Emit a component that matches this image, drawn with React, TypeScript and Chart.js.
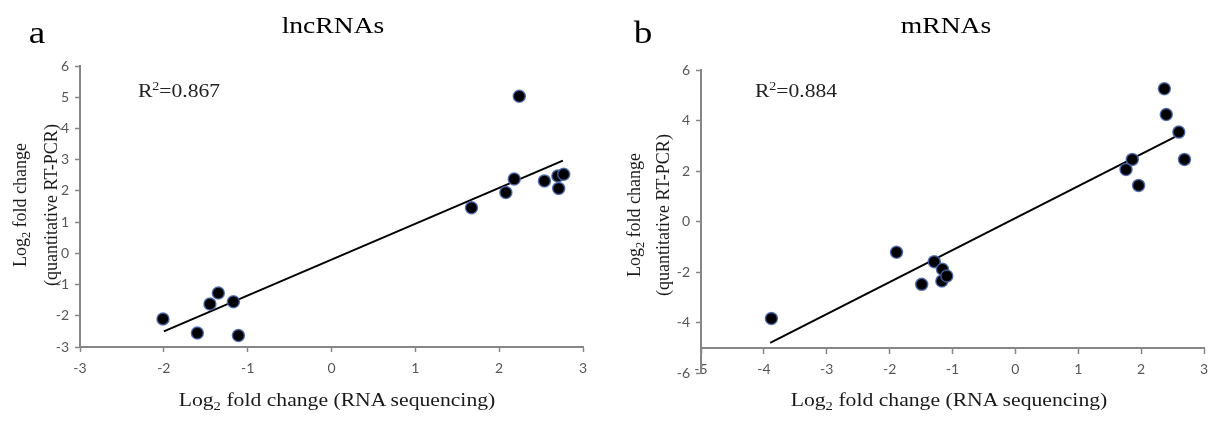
import React, { useEffect, useRef } from "react";
import { Chart, registerables } from "chart.js";

Chart.register(...registerables);

// ---- data ----
const lncX = [-2.01, -1.6, -1.45, -1.35, -1.17, -1.11, 1.67, 2.08, 2.18, 2.24, 2.54, 2.7, 2.77, 2.71];
const lncY = [-2.1, -2.55, -1.62, -1.27, -1.55, -2.63, 1.46, 1.95, 2.38, 5.03, 2.32, 2.48, 2.53, 2.08];
const lncTrendX = [-2.0, 2.76];
const lncTrendY = [-2.5, 2.97];

const mX = [-3.88, -1.89, -1.29, -1.49, -1.16, -1.17, -1.09, 1.76, 1.86, 1.96, 2.37, 2.4, 2.6, 2.69];
const mY = [-3.84, -1.22, -1.59, -2.49, -1.89, -2.36, -2.16, 2.06, 2.46, 1.43, 5.26, 4.24, 3.54, 2.46];
const mTrendX = [-3.9, 2.54];
const mTrendY = [-4.81, 3.35];

const lncXRange = [-3, 3];
const lncYRange = [-3, 6];
const mXRange = [-5, 3];
const mYRange = [-6, 6];
const mXAxisCross = -5;

const panelTitles = ["lncRNAs", "mRNAs"];
const panelLetters = ["a", "b"];
const r2Labels = ["0.867", "0.884"];
const xTitle = ["Log", "2", " fold change (RNA sequencing)"];
const yTitle1 = ["Log", "2", " fold change"];
const yTitle2 = "(quantitative RT-PCR)";

const AXIS_GRAY = "#868686";
const TICK_TEXT = "#575757";
const SERIF = "'Liberation Serif', 'Times New Roman', serif";
const TICK_FONT = { family: "Lato, 'Open Sans', sans-serif", size: 14 };

type PanelProps = {
  left: number;
  width: number;
  xs: number[];
  ys: number[];
  tx: number[];
  ty: number[];
  xr: number[];
  yr: number[];
  yStep: number;
  yAxisWidth: number;
  padTop: number;
  padRight: number;
  padBottom: number;
  xHeight: number;
  xCross?: number;
};

function Panel(p: PanelProps) {
  const ref = useRef<HTMLCanvasElement | null>(null);
  useEffect(() => {
    if (!ref.current) return;
    const pts = p.xs.map((x, i) => ({ x, y: p.ys[i] }));
    const trend = p.tx.map((x, i) => ({ x, y: p.ty[i] }));
    const chart = new Chart(ref.current, {
      type: "scatter",
      data: {
        datasets: [
          {
            data: pts,
            pointRadius: 6,
            pointBackgroundColor: "#000",
            pointBorderColor: "rgba(70,100,170,0.85)",
            pointBorderWidth: 1.5,
            showLine: false,
          },
          {
            data: trend,
            showLine: true,
            pointRadius: 0,
            borderColor: "#000",
            borderWidth: 2,
            fill: false,
          },
        ],
      },
      options: {
        responsive: false,
        animation: false,
        events: [],
        layout: {
          padding: { left: 0, top: p.padTop, right: p.padRight, bottom: p.padBottom },
        },
        plugins: {
          legend: { display: false },
          tooltip: { enabled: false },
          title: { display: false },
        },
        scales: {
          x: {
            type: "linear",
            min: p.xr[0],
            max: p.xr[1],
            position: p.xCross !== undefined ? { y: p.xCross } : "bottom",
            afterFit: (s: any) => {
              s.height = p.xHeight;
            },
            ticks: {
              stepSize: 1,
              color: TICK_TEXT,
              padding: 8,
              font: TICK_FONT,
            },
            grid: {
              drawOnChartArea: false,
              drawTicks: true,
              tickLength: 5,
              tickColor: AXIS_GRAY,
              tickWidth: 1.5,
            },
            border: { display: true, color: AXIS_GRAY, width: 2 },
          },
          y: {
            type: "linear",
            min: p.yr[0],
            max: p.yr[1],
            position: "left",
            afterFit: (s: any) => {
              s.width = p.yAxisWidth;
            },
            ticks: {
              stepSize: p.yStep,
              color: TICK_TEXT,
              padding: 6,
              font: TICK_FONT,
            },
            grid: {
              drawOnChartArea: false,
              drawTicks: true,
              tickLength: 5,
              tickColor: AXIS_GRAY,
              tickWidth: 1.5,
            },
            border: { display: true, color: AXIS_GRAY, width: 2 },
          },
        },
      },
    } as any);
    return () => chart.destroy();
  }, []);
  return (
    <canvas
      ref={ref}
      width={p.width}
      height={421}
      style={{ position: "absolute", left: p.left, top: 0, width: p.width, height: 421 }}
    />
  );
}

function Txt(props: {
  x: number;
  y: number;
  size: number;
  sx?: number;
  rot?: boolean;
  color?: string;
  lh?: number;
  children: React.ReactNode;
}) {
  const sx = props.sx ?? 1.2;
  const tf = props.rot
    ? `scaleX(${sx}) rotate(-90deg) translate(-50%,-50%)`
    : `scaleX(${sx}) translate(-50%,-50%)`;
  return (
    <div
      style={{
        position: "absolute",
        left: props.x,
        top: props.y,
        transformOrigin: "0 0",
        transform: tf,
        fontFamily: SERIF,
        fontSize: props.size,
        lineHeight: `${props.lh ?? props.size}px`,
        color: props.color ?? "#000",
        whiteSpace: "nowrap",
        textAlign: "center",
      }}
    >
      {props.children}
    </div>
  );
}

function Sub({ t }: { t: string }) {
  return (
    <span style={{ fontSize: "0.68em", position: "relative", top: "0.32em" }}>{t}</span>
  );
}

function XTitle({ x }: { x: number }) {
  return (
    <Txt x={x} y={400} size={19} sx={1.14} color="#1a1a1a">
      {xTitle[0]}
      <Sub t={xTitle[1]} />
      {xTitle[2]}
    </Txt>
  );
}

function YTitle({ x, y, lh }: { x: number; y: number; lh: number }) {
  return (
    <Txt x={x} y={y} size={18} sx={1.05} rot lh={lh} color="#1a1a1a">
      <div>
        {yTitle1[0]}
        <Sub t={yTitle1[1]} />
        {yTitle1[2]}
      </div>
      <div>{yTitle2}</div>
    </Txt>
  );
}

export default function App() {
  return (
    <div
      style={{
        position: "fixed",
        left: 0,
        top: 0,
        width: 1221,
        height: 421,
        background: "#fff",
        overflow: "hidden",
      }}
    >
      <Panel
        left={0}
        width={610}
        xs={lncX}
        ys={lncY}
        tx={lncTrendX}
        ty={lncTrendY}
        xr={lncXRange}
        yr={lncYRange}
        yStep={1}
        yAxisWidth={80}
        padTop={66}
        padRight={27}
        padBottom={0}
        xHeight={74}
      />
      <Panel
        left={610}
        width={611}
        xs={mX}
        ys={mY}
        tx={mTrendX}
        ty={mTrendY}
        xr={mXRange}
        yr={mYRange}
        yStep={2}
        yAxisWidth={91}
        padTop={70}
        padRight={17}
        padBottom={48}
        xHeight={48}
        xCross={mXAxisCross}
      />
      <Txt x={37} y={32} size={31}>{panelLetters[0]}</Txt>
      <Txt x={643} y={32} size={31}>{panelLetters[1]}</Txt>
      <Txt x={333} y={25} size={23}>{panelTitles[0]}</Txt>
      <Txt x={946} y={25} size={23}>{panelTitles[1]}</Txt>
      <Txt x={179} y={91} size={18} color="#222">
        R<sup style={{ fontSize: "0.65em", lineHeight: 0 }}>2</sup>={r2Labels[0]}
      </Txt>
      <Txt x={796} y={91} size={18} color="#222">
        R<sup style={{ fontSize: "0.65em", lineHeight: 0 }}>2</sup>={r2Labels[1]}
      </Txt>
      <XTitle x={337} />
      <XTitle x={949} />
      <YTitle x={35} y={205} lh={28} />
      <YTitle x={648} y={215} lh={26} />
    </div>
  );
}
